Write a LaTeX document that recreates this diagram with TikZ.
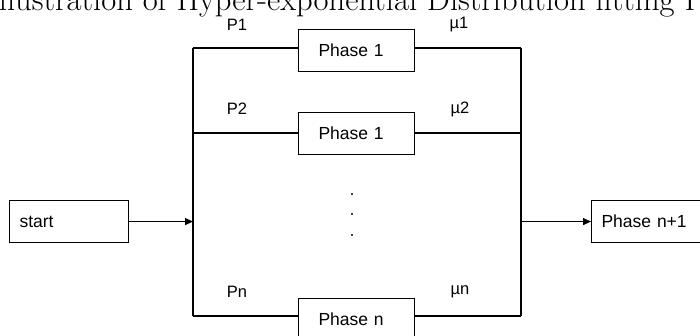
\documentclass[tikz,border=0pt]{standalone}
\usepackage{fontspec}
\setsansfont{Liberation Sans}
\usetikzlibrary{arrows.meta}
\tikzset{
  box/.style={draw=black, line width=1.1pt, rectangle, inner ysep=0pt,
    minimum height=42pt, align=left, font=\sffamily\fontsize{17.5}{20}\selectfont},
  phasebox/.style={box, inner xsep=20pt, text width=76pt, minimum width=116pt},
  sidebox/.style={box, inner xsep=10pt, text width=99pt, minimum width=119pt},
  lbl/.style={inner sep=0pt, font=\sffamily\fontsize{16.5}{19}\selectfont},
  wire/.style={line width=1.1pt, draw=black},
  arr/.style={wire, -{Triangle[length=8pt,width=7pt]}},
  dotmark/.style={rectangle, fill=black!75, inner sep=0pt, minimum size=2.6pt},
  ttl/.style={inner sep=0pt, anchor=base west, font=\fontsize{32.6}{37}\selectfont}
}
\begin{document}
\begin{tikzpicture}[x=1pt, y=-1pt]
\useasboundingbox (0,0) rectangle (700,335);
\clip (0,0) rectangle (700,335);
\fill[white] (0,0) rectangle (700,335);
% title
\node[ttl] (title) at (-12,10.5) {Illustration of Hyper-exponential Distribution fitting Process};
% boxes
\node[phasebox, anchor=north west] (ph1) at (298,29) {Phase 1};
\node[phasebox, anchor=north west] (ph2) at (298,112) {Phase 1};
\node[phasebox, anchor=north west] (phn) at (298,298) {Phase n};
\node[sidebox, anchor=north west] (start) at (9,200) {start};
\node[sidebox, anchor=north west] (phe) at (591,200) {Phase n+1};
% bus coordinates
\coordinate (lt) at (193,48);
\coordinate (l2) at (193,133);
\coordinate (lb) at (193,316);
\coordinate (rt) at (521,48);
\coordinate (r2) at (521,133);
\coordinate (rb) at (521,316);
% buses
\draw[wire] (lt) -- (lb);
\draw[wire] (rt) -- (rb);
% branches
\draw[wire] (lt) -- (lt -| ph1.west);
\draw[wire] (ph1.east |- rt) -- (rt);
\draw[wire] (l2) -- (l2 -| ph2.west);
\draw[wire] (ph2.east |- r2) -- (r2);
\draw[wire] (lb) -- (lb -| phn.west);
\draw[wire] (phn.east |- rb) -- (rb);
% arrows
\draw[arr] (start.east) -- (start.east -| lt);
\draw[arr] (rt |- phe.west) -- (phe.west);
% labels
\node[lbl] (p1) at (237,25) {P1};
\node[lbl] (p2) at (237,109) {P2};
\node[lbl] (pn) at (237,292) {Pn};
\node[lbl] (m1) at (459,25) {µ1};
\node[lbl] (m2) at (460,109) {µ2};
\node[lbl] (mn) at (460,292) {µn};
% dots
\node[dotmark] (d1) at (352,194) {};
\node[dotmark] (d2) at (352,214) {};
\node[dotmark] (d3) at (352,235) {};
\end{tikzpicture}
\end{document}
